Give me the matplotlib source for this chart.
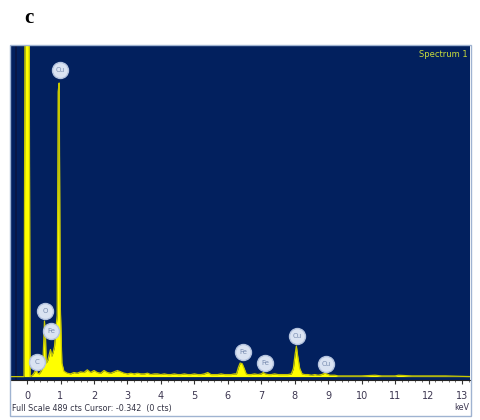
import numpy as np
import matplotlib

matplotlib.use("Agg")
import matplotlib.pyplot as plt
from matplotlib.patches import Rectangle

# EDS spectrum (keV, counts)
kev = [
    -0.48, -0.09, -0.06, 0.06, 0.09, 0.16, 0.22, 0.27, 0.31, 0.36,
    0.42, 0.47, 0.49, 0.52, 0.55, 0.57, 0.62, 0.66, 0.70, 0.74,
    0.78, 0.82, 0.86, 0.90, 0.93, 0.96, 0.99, 1.04, 1.10,
    1.2, 1.3, 1.4, 1.5, 1.6, 1.7, 1.8, 1.9, 2.0,
    2.1, 2.2, 2.3, 2.4, 2.5, 2.6, 2.7, 2.8, 2.9, 3.0,
    3.1, 3.2, 3.3, 3.4, 3.5, 3.6, 3.7, 3.8, 3.9, 4.0,
    4.1, 4.2, 4.3, 4.4, 4.5, 4.6, 4.7, 4.8, 4.9, 5.0,
    5.1, 5.2, 5.3, 5.4, 5.5, 5.6, 5.7, 5.8, 5.9, 6.0, 6.1, 6.2,
    6.26, 6.32, 6.37, 6.43, 6.49, 6.55, 6.6, 6.7, 6.8, 6.9,
    7.0, 7.06, 7.12, 7.2, 7.3, 7.4, 7.5, 7.6, 7.7, 7.8, 7.9,
    7.96, 8.01, 8.05, 8.09, 8.15, 8.22, 8.3, 8.4, 8.5, 8.6,
    8.7, 8.8, 8.9, 8.96, 9.05, 9.2, 9.3, 9.5, 9.7, 10.0,
    10.4, 10.6, 11.0, 11.1, 11.5, 12.0, 12.5, 13.3,
]
cts = [
    0, 0, 560, 560, 0, 2, 6, 11, 5, 4,
    8, 14, 40, 82, 60, 20, 24, 32, 40, 30,
    36, 44, 70, 90, 420, 433, 110, 20, 8,
    5, 4, 6, 5, 7, 6, 10, 6, 9,
    6, 5, 9, 6, 5, 7, 9, 7, 5, 4,
    5, 4, 5, 4, 4, 5, 3, 4, 4, 3,
    4, 3, 3, 4, 3, 3, 4, 3, 3, 4,
    3, 3, 4, 6, 3, 3, 3, 4, 3, 3, 3, 4,
    4, 14, 20, 19, 12, 4, 3, 3, 4, 3,
    4, 6, 4, 3, 3, 4, 3, 3, 3, 3, 4,
    12, 32, 45, 30, 12, 4, 3, 3, 2, 3,
    2, 3, 5, 4, 2, 2, 1, 1, 1, 1,
    2, 1, 1, 2, 1, 1, 1, 0,
]

# element markers
elements = ["C", "O", "Fe", "Cu", "Fe", "Fe", "Cu", "Cu"]
label_kev = [0.30, 0.54, 0.72, 0.99, 6.46, 7.11, 8.07, 8.94]
label_cts = [22, 97, 67, 452, 36, 20, 60, 19]

xticks = list(range(0, 14))
full_scale = 489

bg = "#02205e"
yellow = "#ffff00"

fig = plt.figure(figsize=(4.8, 4.2), dpi=100)
W, H = 480, 420
ax = fig.add_axes([11 / W, (H - 380) / H, 459 / W, 335 / H])
ax.set_facecolor(bg)

ax.fill_between(kev, cts, 0, color=yellow, lw=0, zorder=2)
ax.plot(kev, cts, color="#c8c800", lw=0.9, zorder=3)
ax.axvline(-0.33, color="#0a1744", lw=1.3, zorder=1)

ax.plot(label_kev, label_cts, "o", ms=11.5, mfc="#dae3f2", mec="#b4c3de",
        mew=1.0, zorder=4)
for el, x, y in zip(elements, label_kev, label_cts):
    ax.text(x, y, el, ha="center", va="center", fontsize=5,
            color="#7a8db0", zorder=5)

ax.text(0.995, 0.985, "Spectrum 1", transform=ax.transAxes, ha="right",
        va="top", fontsize=6, color="#c9dc3c")

ax.set_xlim(-0.48, 13.24)
ax.set_ylim(-5, full_scale)
ax.set_yticks([])
ax.set_xticks(xticks)
ax.set_xticks(np.arange(0, 13.3, 0.2), minor=True)
ax.tick_params(axis="x", which="major", length=3, width=0.8, color="#333333",
               labelsize=7, labelcolor="#3c3650", pad=5)
ax.tick_params(axis="x", which="minor", length=1.5, width=0.6, color="#555555")
for s in ["top", "left", "right"]:
    ax.spines[s].set_visible(False)
ax.spines["bottom"].set_color("#222222")
ax.spines["bottom"].set_linewidth(0.8)

# outer frame of the spectrum window
fig.patches.append(Rectangle((10 / W, (H - 416) / H), 461 / W, 371 / H,
                             transform=fig.transFigure, fill=False,
                             edgecolor="#9fb3d1", lw=1))

fig.text(11.5 / W, 1 - 408 / H, f"Full Scale {full_scale} cts Cursor: -0.342  (0 cts)",
         ha="left", va="center", fontsize=5.8, color="#333344")
fig.text(469 / W, 1 - 408 / H, "keV", ha="right", va="center",
         fontsize=5.8, color="#3c3650")
fig.text(29 / W, 1 - 18 / H, "c", ha="center", va="center", fontsize=15,
         fontweight="bold", family="Liberation Serif")

fig.savefig("out.png", dpi=100)
plt.close(fig)
